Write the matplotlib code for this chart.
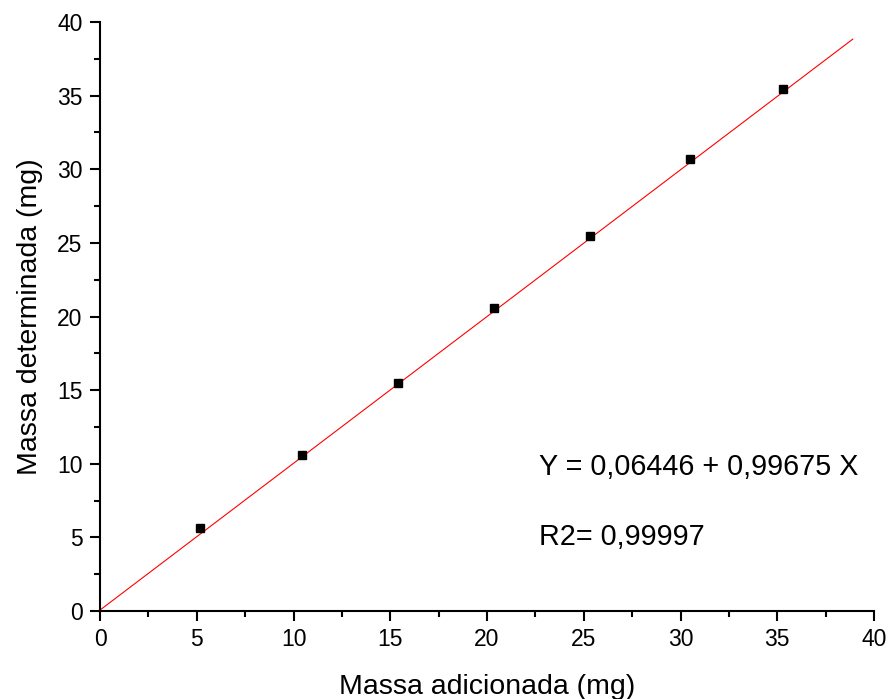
import matplotlib.pyplot as plt
import numpy as np

plt.rcParams['font.family'] = ['Liberation Sans', 'DejaVu Sans']

# dados
massa_adicionada = [5.17, 10.44, 15.4, 20.36, 25.3, 30.5, 35.3]
massa_determinada = [5.64, 10.59, 15.48, 20.58, 25.47, 30.7, 35.45]
intercepto = 0.06446
inclinacao = 0.99675
x_fit_max = 38.9

fig = plt.figure(figsize=(8.9, 6.99), dpi=100)
ax = fig.add_axes([0.1124, 0.1259, 0.8697, 0.8426])

xf = np.array([0, x_fit_max])
ax.plot(xf, intercepto + inclinacao * xf, color='red', lw=0.8, zorder=2)
ax.plot(massa_adicionada, massa_determinada, 's', color='black', ms=6, zorder=3)

ax.set_xlim(0, 40)
ax.set_ylim(0, 40)
ax.set_xticks(np.arange(0, 41, 5))
ax.set_yticks(np.arange(0, 41, 5))
ax.set_xticks(np.arange(0, 41, 2.5), minor=True)
ax.set_yticks(np.arange(0, 41, 2.5), minor=True)

for s in ['top', 'right']:
    ax.spines[s].set_visible(False)
for s in ['left', 'bottom']:
    ax.spines[s].set_linewidth(1.5)

ax.tick_params(which='major', direction='out', length=7.5, width=1.5, labelsize=16.5, pad=5)
ax.tick_params(which='minor', direction='out', length=4, width=1.5)

ax.set_xlabel('Massa adicionada (mg)', fontsize=20.5, labelpad=16)
ax.set_ylabel('Massa determinada (mg)', fontsize=20.5, labelpad=10)

ax.text(22.7, 9.78, 'Y = 0,06446 + 0,99675 X', fontsize=20.7, va='center', ha='left')
ax.text(22.7, 5.03, 'R2= 0,99997', fontsize=20.7, va='center', ha='left')

fig.savefig('out.png', dpi=100)
